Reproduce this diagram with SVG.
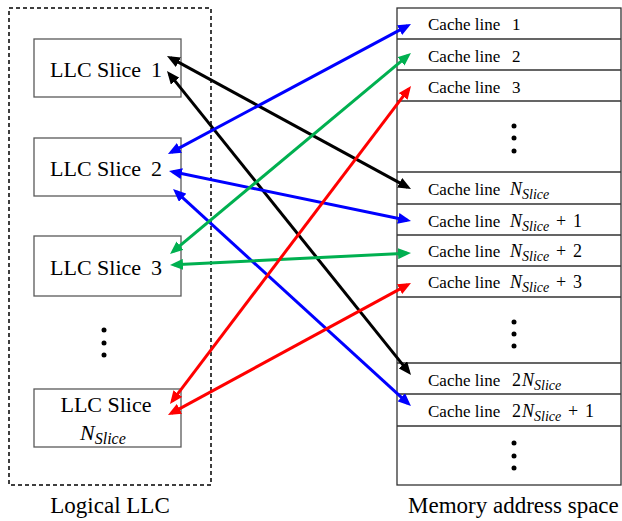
<svg xmlns="http://www.w3.org/2000/svg" width="622" height="521" viewBox="0 0 622 521" font-family="'Liberation Serif', 'Times New Roman', serif">
<style>
.box{fill:#fff;stroke:#595959;stroke-width:1.3}
.t{fill:#000}
.s{font-size:22px}
.c{font-size:17px}
.m{font-style:italic}
.grid{stroke:#333;stroke-width:1.3;fill:none}
.a{fill:none;stroke-width:3}
.k{stroke:#000}
.b{stroke:#0000FF}
.g{stroke:#00B050}
.r{stroke:#FF0000}
</style>
<defs>
<marker id="mk" viewBox="0 0 13 11" refX="9" refY="5.5" markerWidth="13" markerHeight="11" markerUnits="userSpaceOnUse" orient="auto-start-reverse"><path d="M0,0 L13,5.5 L0,11 z" fill="#000"/></marker>
<marker id="mb" viewBox="0 0 13 11" refX="9" refY="5.5" markerWidth="13" markerHeight="11" markerUnits="userSpaceOnUse" orient="auto-start-reverse"><path d="M0,0 L13,5.5 L0,11 z" fill="#0000FF"/></marker>
<marker id="mg" viewBox="0 0 13 11" refX="9" refY="5.5" markerWidth="13" markerHeight="11" markerUnits="userSpaceOnUse" orient="auto-start-reverse"><path d="M0,0 L13,5.5 L0,11 z" fill="#00B050"/></marker>
<marker id="mr" viewBox="0 0 13 11" refX="9" refY="5.5" markerWidth="13" markerHeight="11" markerUnits="userSpaceOnUse" orient="auto-start-reverse"><path d="M0,0 L13,5.5 L0,11 z" fill="#FF0000"/></marker>
</defs>
<rect width="622" height="521" fill="#fff"/>

<g id="logical-llc">
<rect x="9" y="8" width="202" height="477" fill="none" stroke="#000" stroke-width="1.5" stroke-dasharray="4,3"/>
<text class="t" x="110" y="513" font-size="23" text-anchor="middle">Logical LLC</text>
</g>

<g id="slice1">
<rect class="box" x="34" y="39" width="147" height="58"/>
<text class="t s" x="50" y="77">LLC Slice</text><text class="t s" x="151" y="77">1</text>
</g>
<g id="slice2">
<rect class="box" x="34" y="138" width="147" height="58"/>
<text class="t s" x="50" y="176">LLC Slice</text><text class="t s" x="151" y="176">2</text>
</g>
<g id="slice3">
<rect class="box" x="34" y="236" width="147" height="60"/>
<text class="t s" x="50" y="275">LLC Slice</text><text class="t s" x="151" y="275">3</text>
</g>
<g id="slice-dots">
<circle cx="104" cy="330" r="2.5"/><circle cx="104" cy="343" r="2.5"/><circle cx="104" cy="355" r="2.5"/>
</g>
<g id="sliceN">
<rect class="box" x="34" y="389" width="147" height="58"/>
<text class="t s" x="106" y="412" text-anchor="middle">LLC Slice</text>
<text class="t" x="80" y="440"><tspan class="m" font-size="22">N</tspan><tspan class="m" font-size="16" dy="4">Slice</tspan></text>
</g>

<g id="memory">
<rect class="grid" x="397" y="8" width="224" height="477"/>
<path class="grid" d="M397,39H621M397,70H621M397,101H621M397,172H621M397,204H621M397,235H621M397,266H621M397,297H621M397,363H621M397,394H621M397,426H621"/>
<text class="t" x="408" y="513" font-size="23">Memory address space</text>
</g>
<g id="line1"><text class="t c" x="428" y="30">Cache line</text><text class="t c" x="512" y="30">1</text></g>
<g id="line2"><text class="t c" x="428" y="62">Cache line</text><text class="t c" x="512" y="62">2</text></g>
<g id="line3"><text class="t c" x="428" y="93">Cache line</text><text class="t c" x="512" y="93">3</text></g>
<g id="dots1"><circle cx="514" cy="126" r="2.5"/><circle cx="514" cy="138" r="2.5"/><circle cx="514" cy="151" r="2.5"/></g>
<g id="lineN"><text class="t c" x="428" y="195">Cache line</text><text class="t" x="510" y="195"><tspan class="m" font-size="18">N</tspan><tspan class="m" font-size="14" dy="4">Slice</tspan></text></g>
<g id="lineN1"><text class="t c" x="428" y="227">Cache line</text><text class="t" x="510" y="227"><tspan class="m" font-size="18">N</tspan><tspan class="m" font-size="14" dy="4">Slice</tspan></text><text class="t" x="556" y="227" font-size="18">+</text><text class="t" x="573" y="227" font-size="18">1</text></g>
<g id="lineN2"><text class="t c" x="428" y="257">Cache line</text><text class="t" x="510" y="257"><tspan class="m" font-size="18">N</tspan><tspan class="m" font-size="14" dy="4">Slice</tspan></text><text class="t" x="556" y="257" font-size="18">+</text><text class="t" x="573" y="257" font-size="18">2</text></g>
<g id="lineN3"><text class="t c" x="428" y="288">Cache line</text><text class="t" x="510" y="288"><tspan class="m" font-size="18">N</tspan><tspan class="m" font-size="14" dy="4">Slice</tspan></text><text class="t" x="556" y="288" font-size="18">+</text><text class="t" x="573" y="288" font-size="18">3</text></g>
<g id="dots2"><circle cx="514" cy="322" r="2.5"/><circle cx="514" cy="334" r="2.5"/><circle cx="514" cy="346" r="2.5"/></g>
<g id="line2N"><text class="t c" x="428" y="386">Cache line</text><text class="t" x="512" y="386" font-size="18">2</text><text class="t" x="522" y="386"><tspan class="m" font-size="18">N</tspan><tspan class="m" font-size="14" dy="4">Slice</tspan></text></g>
<g id="line2N1"><text class="t c" x="428" y="417">Cache line</text><text class="t" x="512" y="417" font-size="18">2</text><text class="t" x="522" y="417"><tspan class="m" font-size="18">N</tspan><tspan class="m" font-size="14" dy="4">Slice</tspan></text><text class="t" x="568" y="417" font-size="18">+</text><text class="t" x="585" y="417" font-size="18">1</text></g>
<g id="dots3"><circle cx="514" cy="443" r="2.5"/><circle cx="514" cy="456" r="2.5"/><circle cx="514" cy="468" r="2.5"/></g>

<g id="connectors">
<line class="a k" x1="170.5" y1="57.9" x2="407.5" y2="187.1" marker-start="url(#mk)" marker-end="url(#mk)"/>
<line class="a k" x1="169.5" y1="74.1" x2="408.5" y2="371.9" marker-start="url(#mk)" marker-end="url(#mk)"/>
<line class="a b" x1="171.5" y1="152.1" x2="407.5" y2="25.9" marker-start="url(#mb)" marker-end="url(#mb)"/>
<line class="a b" x1="172.9" y1="171.8" x2="407.1" y2="220.2" marker-start="url(#mb)" marker-end="url(#mb)"/>
<line class="a b" x1="176" y1="191.7" x2="408" y2="403.3" marker-start="url(#mb)" marker-end="url(#mb)"/>
<line class="a g" x1="173.1" y1="251.4" x2="407.9" y2="55.6" marker-start="url(#mg)" marker-end="url(#mg)"/>
<line class="a g" x1="174" y1="264.8" x2="407" y2="253.2" marker-start="url(#mg)" marker-end="url(#mg)"/>
<line class="a r" x1="172.4" y1="400.8" x2="408.6" y2="89.2" marker-start="url(#mr)" marker-end="url(#mr)"/>
<line class="a r" x1="171.5" y1="413.1" x2="407.5" y2="284.9" marker-start="url(#mr)" marker-end="url(#mr)"/>
</g>
</svg>
